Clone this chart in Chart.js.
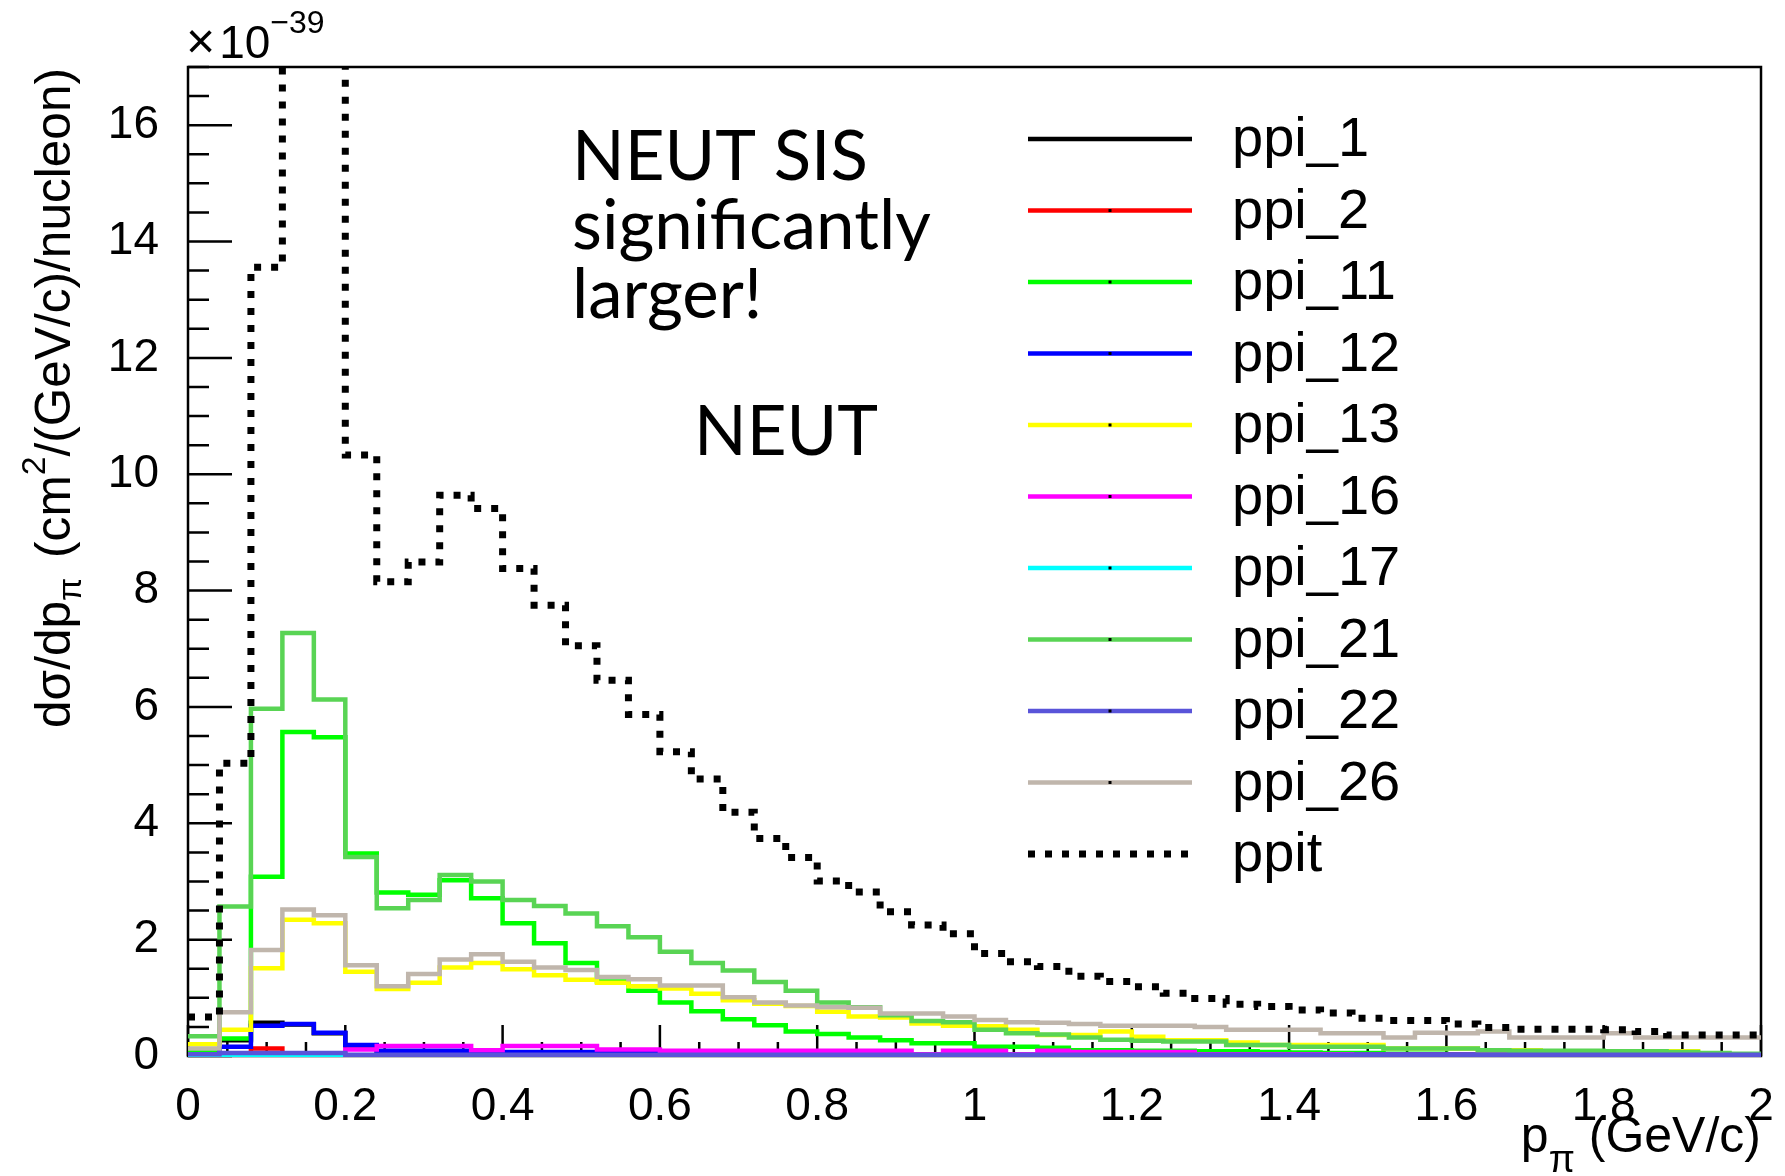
<!DOCTYPE html>
<html>
<head>
<meta charset="utf-8">
<title>NEUT dσ/dp_π</title>
<script src="https://cdn.jsdelivr.net/npm/chart.js@4.4.1/dist/chart.umd.min.js"></script>
<style>
  html, body { margin: 0; padding: 0; background: #fff; }
  #wrap { position: relative; width: 1785px; height: 1176px; }
</style>
</head>
<body>
<div id="wrap"><canvas id="c" width="1785" height="1176"></canvas></div>
<script>
/* dσ/dp_π per pion-production channel, 0.04 GeV/c bins, units of 1e-39 */

// ===== data =====
var binEdges = [0, 0.04, 0.08, 0.12, 0.16, 0.2, 0.24, 0.28, 0.32, 0.36, 0.4,
  0.44, 0.48, 0.52, 0.56, 0.6, 0.64, 0.68, 0.72, 0.76, 0.8,
  0.84, 0.88, 0.92, 0.96, 1, 1.04, 1.08, 1.12, 1.16, 1.2,
  1.24, 1.28, 1.32, 1.36, 1.4, 1.44, 1.48, 1.52, 1.56, 1.6,
  1.64, 1.68, 1.72, 1.76, 1.8, 1.84, 1.88, 1.92, 1.96, 2];

var ppi_1 = [0.02, 0.27, 0.57, 0.54, 0.39, 0.18, 0.08, 0.08, 0.08, 0.05,
  0.06, 0.06, 0.06, 0.04, 0.04, 0.03, 0.03, 0.03, 0.02, 0.02,
  0.02, 0.02, 0.02, 0.02, 0.02, 0.02, 0.02, 0.02, 0.02, 0.02,
  0.01, 0.01, 0.01, 0.01, 0.01, 0.01, 0.01, 0.01, 0.01, 0.01,
  0.01, 0.01, 0.01, 0.01, 0.01, 0.01, 0.01, 0.01, 0.01, 0.01];

var ppi_2 = [0, 0.02, 0.13, 0.02, 0.02, 0.01, 0.01, 0.01, 0.01, 0.01,
  0.01, 0.01, 0.01, 0.01, 0.01, 0.01, 0.01, 0.01, 0.01, 0.01,
  0.01, 0.01, 0.01, 0.01, 0.01, 0.01, 0.01, 0.01, 0.01, 0.01,
  0.01, 0.01, 0.01, 0.01, 0.01, 0.01, 0.01, 0.01, 0.01, 0.01,
  0.01, 0.01, 0.01, 0.01, 0.01, 0.01, 0.01, 0.01, 0.01, 0.01];

var ppi_11 = [0.08, 0.30, 3.08, 5.57, 5.48, 3.48, 2.81, 2.77, 3.02, 2.71,
  2.28, 1.94, 1.60, 1.28, 1.12, 0.92, 0.77, 0.63, 0.53, 0.42,
  0.38, 0.32, 0.27, 0.22, 0.22, 0.16, 0.16, 0.14, 0.10, 0.10,
  0.09, 0.09, 0.08, 0.08, 0.07, 0.06, 0.05, 0.05, 0.04, 0.04,
  0.03, 0.03, 0.03, 0.03, 0.02, 0.02, 0.02, 0.02, 0.02, 0.02];

var ppi_12 = [0.02, 0.16, 0.52, 0.55, 0.40, 0.19, 0.09, 0.09, 0.09, 0.06,
  0.07, 0.07, 0.07, 0.05, 0.05, 0.04, 0.04, 0.04, 0.03, 0.03,
  0.03, 0.03, 0.03, 0.03, 0.03, 0.03, 0.02, 0.02, 0.02, 0.02,
  0.02, 0.02, 0.02, 0.02, 0.02, 0.02, 0.02, 0.02, 0.02, 0.02,
  0.02, 0.02, 0.02, 0.02, 0.02, 0.02, 0.02, 0.02, 0.02, 0.02];

var ppi_13 = [0.20, 0.45, 1.51, 2.34, 2.28, 1.45, 1.15, 1.26, 1.52, 1.60,
  1.49, 1.39, 1.31, 1.26, 1.20, 1.16, 1.07, 0.96, 0.90, 0.86,
  0.76, 0.68, 0.66, 0.56, 0.52, 0.51, 0.45, 0.36, 0.36, 0.42,
  0.33, 0.27, 0.27, 0.23, 0.19, 0.19, 0.19, 0.19, 0.13, 0.13,
  0.13, 0.10, 0.10, 0.08, 0.08, 0.08, 0.08, 0.08, 0.02, 0.02];

var ppi_16 = [0, 0, 0, 0, 0, 0.11, 0.17, 0.17, 0.17, 0.10,
  0.17, 0.17, 0.17, 0.11, 0.11, 0.09, 0.09, 0.09, 0.09, 0.09,
  0.09, 0.09, 0.09, 0.03, 0.09, 0.09, 0.03, 0.09, 0.07, 0.07,
  0.07, 0.07, 0.03, 0.03, 0.03, 0.03, 0.03, 0.02, 0.02, 0.02,
  0.02, 0.02, 0.02, 0.02, 0.02, 0.02, 0.02, 0.02, 0.02, 0.02];

var ppi_17 = [0, 0.01, 0.01, 0.01, 0.01, 0, 0, 0, 0, 0,
  0, 0, 0, 0, 0, 0, 0, 0, 0, 0,
  0, 0, 0, 0, 0, 0, 0, 0, 0, 0,
  0, 0, 0, 0, 0, 0, 0, 0, 0, 0,
  0, 0, 0, 0, 0, 0, 0, 0, 0, 0];

var ppi_21 = [0.34, 2.57, 5.97, 7.27, 6.13, 3.42, 2.54, 2.68, 3.11, 3.00,
  2.68, 2.58, 2.45, 2.23, 2.04, 1.79, 1.60, 1.47, 1.27, 1.12,
  0.92, 0.84, 0.70, 0.60, 0.58, 0.45, 0.39, 0.37, 0.32, 0.28,
  0.26, 0.25, 0.25, 0.19, 0.19, 0.16, 0.16, 0.16, 0.13, 0.13,
  0.13, 0.10, 0.09, 0.09, 0.09, 0.08, 0.08, 0.07, 0.05, 0.04];

var ppi_22 = [0.03, 0.05, 0.05, 0.05, 0.05, 0.02, 0.02, 0.02, 0.02, 0.02,
  0.02, 0.02, 0.02, 0.02, 0.02, 0.02, 0.02, 0.02, 0.02, 0.02,
  0.02, 0.02, 0.02, 0.02, 0.02, 0.02, 0.02, 0.02, 0.02, 0.02,
  0.02, 0.02, 0.02, 0.02, 0.02, 0.02, 0.02, 0.02, 0.02, 0.02,
  0.02, 0.02, 0.02, 0.02, 0.02, 0.02, 0.02, 0.02, 0.02, 0.02];

var ppi_26 = [0.13, 0.75, 1.82, 2.52, 2.42, 1.56, 1.20, 1.41, 1.66, 1.75,
  1.62, 1.52, 1.48, 1.36, 1.32, 1.21, 1.21, 1.01, 0.92, 0.87,
  0.84, 0.83, 0.73, 0.73, 0.68, 0.62, 0.58, 0.57, 0.55, 0.52,
  0.52, 0.52, 0.50, 0.45, 0.45, 0.45, 0.39, 0.39, 0.32, 0.40,
  0.39, 0.42, 0.32, 0.32, 0.32, 0.39, 0.32, 0.32, 0.32, 0.32];

// total; bins 3 and 4 run off the top of the frame
var ppit = [0.67, 5.03, 13.56, 19.5, 18.5, 10.33, 8.15, 8.49, 9.64, 9.41,
  8.38, 7.75, 7.05, 6.46, 5.87, 5.23, 4.76, 4.19, 3.74, 3.41,
  3.01, 2.82, 2.48, 2.25, 2.10, 1.76, 1.62, 1.54, 1.37, 1.28,
  1.19, 1.08, 0.99, 0.89, 0.85, 0.79, 0.74, 0.65, 0.61, 0.61,
  0.55, 0.49, 0.46, 0.46, 0.46, 0.45, 0.42, 0.36, 0.36, 0.36];

var seriesNames = ["ppi_1", "ppi_2", "ppi_11", "ppi_12", "ppi_13", "ppi_16",
  "ppi_17", "ppi_21", "ppi_22", "ppi_26", "ppit"];
var seriesValues = [ppi_1, ppi_2, ppi_11, ppi_12, ppi_13, ppi_16,
  ppi_17, ppi_21, ppi_22, ppi_26, ppit];
var seriesColors = ["#000000", "#ff0000", "#00ff00", "#0000ff", "#ffff00", "#ff00ff",
  "#00ffff", "#59d454", "#5954d9", "#c0b6ac", "#000000"];

var xTicks = [0, 0.2, 0.4, 0.6, 0.8, 1, 1.2, 1.4, 1.6, 1.8, 2];
var xTickLabels = ["0", "0.2", "0.4", "0.6", "0.8", "1", "1.2", "1.4", "1.6", "1.8", "2"];
var yTicks = [0, 2, 4, 6, 8, 10, 12, 14, 16];
var yTickLabels = ["0", "2", "4", "6", "8", "10", "12", "14", "16"];

var FONT = "'Liberation Sans', Arial, sans-serif";
var NOTE_FONT = "Lato, 'Open Sans', sans-serif";

// histogram -> step polyline through the bin edges
function stepPoints(vals) {
  var pts = vals.map(function (v, i) { return { x: binEdges[i], y: v }; });
  pts.push({ x: binEdges[vals.length], y: vals[vals.length - 1] });
  return pts;
}

// ===== sub/superscript text runs =====
function runsWidth(ctx, runs) {
  var w = 0;
  runs.forEach(function (r) {
    ctx.font = r.size + "px " + (r.family || FONT);
    w += ctx.measureText(r.text).width + (r.gap || 0);
  });
  return w;
}
function drawRuns(ctx, runs, x, y) {
  runs.forEach(function (r) {
    ctx.font = r.size + "px " + (r.family || FONT);
    ctx.fillText(r.text, x, y + (r.dy || 0));
    x += ctx.measureText(r.text).width + (r.gap || 0);
  });
}

// ===== frame, ticks, legend, labels (ROOT style) =====
var rootDecor = {
  id: "rootDecor",
  beforeDatasetsDraw: function (chart) {
    var ctx = chart.ctx, a = chart.chartArea;
    var xs = chart.scales.x, ys = chart.scales.y;
    ctx.save();
    ctx.strokeStyle = "#000";
    ctx.lineWidth = 2.5;
    ctx.strokeRect(a.left, a.top, a.right - a.left, a.bottom - a.top);
    ctx.beginPath();
    // y: minor every 0.5, major on labelled values
    for (var k = 0; k * 0.5 <= ys.max; k++) {
      var py = ys.getPixelForValue(k * 0.5);
      ctx.moveTo(a.left, py);
      ctx.lineTo(a.left + (k % 4 === 0 ? 44 : 21), py);
    }
    // x: minor every 0.05, major every 0.2
    for (var j = 0; j <= 40; j++) {
      var px = xs.getPixelForValue(j * 0.05);
      ctx.moveTo(px, a.bottom);
      ctx.lineTo(px, a.bottom - (j % 4 === 0 ? 31 : 14));
    }
    ctx.stroke();
    ctx.restore();
  },
  afterDraw: function (chart) {
    var ctx = chart.ctx, a = chart.chartArea;
    ctx.save();
    ctx.fillStyle = "#000";
    ctx.textBaseline = "alphabetic";
    ctx.textAlign = "left";

    // legend
    var rowY = 139, rowStep = 71.5, lx0 = 1028, lx1 = 1192;
    chart.data.datasets.forEach(function (ds, i) {
      var y = rowY + i * rowStep;
      ctx.save();
      ctx.strokeStyle = ds.borderColor;
      ctx.lineWidth = ds.borderWidth;
      ctx.setLineDash(ds.borderDash || []);
      ctx.beginPath();
      ctx.moveTo(lx0, y);
      ctx.lineTo(lx1, y);
      ctx.stroke();
      ctx.restore();
      if (i > 0 && ds.label !== "ppit") {
        ctx.fillRect((lx0 + lx1) / 2 - 1.5, y - 1.5, 3, 3);
      }
      ctx.font = "56px " + FONT;
      ctx.fillText(ds.label, 1232, y + 17);
    });

    // exponent above the y axis
    drawRuns(ctx, [
      { text: "\u00d7", size: 50, gap: 4 },
      { text: "10", size: 46 },
      { text: "\u221239", size: 32, dy: -25 }
    ], a.left - 2, 58);

    // x-axis title, right aligned to the frame
    var xt = [
      { text: "p", size: 50 },
      { text: "\u03c0", size: 38, dy: 20 },
      { text: " (GeV/c)", size: 50 }
    ];
    drawRuns(ctx, xt, a.right - runsWidth(ctx, xt), 1152);

    // y-axis title, rotated and fitted to the frame height
    var yt = [
      { text: "d\u03c3/dp", size: 50 },
      { text: "\u03c0", size: 34, dy: 11, gap: 6 },
      { text: " (cm", size: 50 },
      { text: "2", size: 34, dy: -25 },
      { text: "/(GeV/c)/nucleon)", size: 50 }
    ];
    var yw = runsWidth(ctx, yt);
    ctx.save();
    ctx.translate(70, 728);
    ctx.rotate(-Math.PI / 2);
    ctx.scale(660 / yw, 1);
    drawRuns(ctx, yt, 0, 0);
    ctx.restore();

    // notes
    ctx.font = "69px " + NOTE_FONT;
    ctx.fillText("NEUT SIS", 572, 180);
    ctx.fillText("significantly", 572, 249);
    ctx.fillText("larger!", 572, 318);
    ctx.fillText("NEUT", 694, 455);
    ctx.restore();
  }
};

// ===== chart =====
var datasets = seriesNames.map(function (name, i) {
  var total = name === "ppit";
  return {
    label: name,
    data: stepPoints(seriesValues[i]),
    borderColor: seriesColors[i],
    borderWidth: total ? 7 : 4.5,
    borderDash: total ? [7, 10] : [],
    borderCapStyle: "butt",
    borderJoinStyle: "miter",
    stepped: true,
    tension: 0,
    pointRadius: 0,
    fill: false,
    clip: { left: 2, top: 0, right: 2, bottom: 1 },
    order: seriesNames.length - i
  };
});

Chart.defaults.font.family = FONT;
Chart.defaults.color = "#000";

// the frame is placed by layout padding alone, not by label overhang
function pinScale(w, h) {
  return function (s) {
    if (w) s.width = w;
    if (h) s.height = h;
    s.paddingLeft = 0; s.paddingRight = 0;
    s.paddingTop = 0; s.paddingBottom = 0;
  };
}

new Chart(document.getElementById("c"), {
  type: "line",
  data: { datasets: datasets },
  options: {
    responsive: false,
    animation: false,
    devicePixelRatio: 1,
    layout: { padding: { left: 0, right: 24, top: 67, bottom: 0 } },
    plugins: { legend: { display: false }, tooltip: { enabled: false } },
    scales: {
      x: {
        type: "linear", min: 0, max: 2,
        grid: { display: false, drawTicks: false },
        border: { display: false },
        afterBuildTicks: function (axis) {
          axis.ticks = xTicks.map(function (v) { return { value: v }; });
        },
        ticks: {
          autoSkip: false, maxRotation: 0, padding: 24,
          font: { size: 46 }, color: "#000",
          callback: function (v, i) { return xTickLabels[i]; }
        },
        afterFit: pinScale(0, 120)
      },
      y: {
        type: "linear", min: 0, max: 17,
        grid: { display: false, drawTicks: false },
        border: { display: false },
        afterBuildTicks: function (axis) {
          axis.ticks = yTicks.map(function (v) { return { value: v }; });
        },
        ticks: {
          autoSkip: false, padding: 29,
          font: { size: 46 }, color: "#000",
          callback: function (v, i) { return yTickLabels[i]; }
        },
        afterFit: pinScale(188, 0)
      }
    }
  },
  plugins: [rootDecor]
});
</script>
</body>
</html>
